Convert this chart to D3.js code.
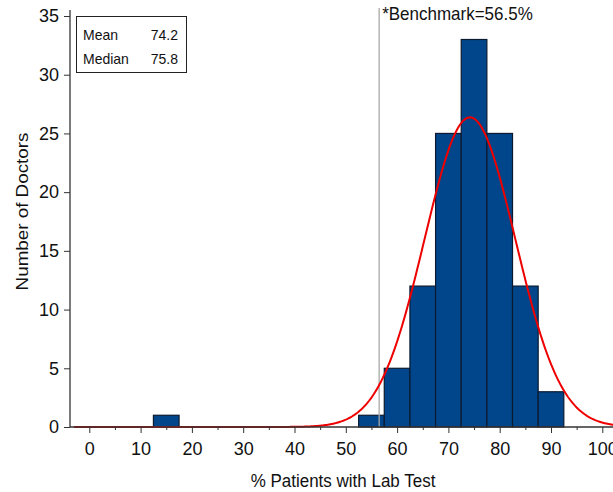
<!DOCTYPE html>
<html>
<head>
<meta charset="utf-8">
<script src="https://cdn.jsdelivr.net/npm/d3@7"></script>
<style>
  html, body { margin: 0; padding: 0; background: #fff; }
  svg { display: block; font-family: "Liberation Sans", Arial, sans-serif; }
</style>
</head>
<body>
<svg id="chart" width="613" height="492"></svg>
<script>
// Histogram bins (5-point wide, labelled by bin centre) and doctor counts
const binCenters = [15, 55, 60, 65, 70, 75, 80, 85, 90];
const binCounts  = [1, 1, 5, 12, 25, 33, 25, 12, 3];
const binWidth = 5;

// Summary statistics
const statLabels = ["Mean", "Median"];
const statValues = ["74.2", "75.8"];
const fitMean = 74.2;
const fitSd = 8.85;

const benchmark = 56.5;

const xTicks = [0, 10, 20, 30, 40, 50, 60, 70, 80, 90, 100];
const xMinorTicks = [5, 15, 25, 35, 45, 55, 65, 75, 85, 95];
const yTicks = [0, 5, 10, 15, 20, 25, 30, 35];

const svg = d3.select("#chart");
const FONT = "Liberation Sans, Arial, sans-serif";

const x = d3.scaleLinear().domain([0, 100]).range([89.3, 602.3]);
const y = d3.scaleLinear().domain([0, 35]).range([427, 16]);
const xAxisStart = 70;

// Bars
const total = d3.sum(binCounts);
svg.append("g").selectAll("rect")
  .data(binCenters.map((c, i) => ({ c, n: binCounts[i] })))
  .join("rect")
  .attr("x", d => x(d.c - binWidth / 2))
  .attr("width", d => x(d.c + binWidth / 2) - x(d.c - binWidth / 2))
  .attr("y", d => y(d.n))
  .attr("height", d => y(0) - y(d.n))
  .attr("fill", "#01468a")
  .attr("stroke", "#0b1a30")
  .attr("stroke-width", 1.2);

// Benchmark line
svg.append("line")
  .attr("x1", x(benchmark)).attr("x2", x(benchmark))
  .attr("y1", 8).attr("y2", y(0))
  .attr("stroke", "#a8a8a8").attr("stroke-width", 1.3);

svg.append("text")
  .attr("transform", `translate(${x(benchmark) + 3},20) scale(1,1.1)`)
  .attr("font-size", 17).attr("fill", "#111")
  .text("*Benchmark=" + benchmark + "%");

// Fitted normal curve scaled to counts
const curveX = d3.range(-3, 103.01, 0.25);
const scale = total * binWidth / (fitSd * Math.sqrt(2 * Math.PI));
const curvePts = curveX.map(v => [v, scale * Math.exp(-0.5 * ((v - fitMean) / fitSd) ** 2)]);
svg.append("path")
  .datum(curvePts)
  .attr("fill", "none")
  .attr("stroke", "#ee0000")
  .attr("stroke-width", 2)
  .attr("d", d3.line().x(d => x(d[0])).y(d => y(d[1])));

// Axes
const axisColor = "#333";
const gx = svg.append("g").attr("transform", `translate(0,${y(0)})`);
gx.append("line").attr("x1", xAxisStart).attr("x2", 613).attr("stroke", axisColor).attr("stroke-width", 1.3);
gx.append("g").call(d3.axisBottom(x).tickValues(xTicks).tickSize(6).tickPadding(9))
  .call(s => {
    s.select(".domain").remove();
    s.selectAll("line").attr("stroke", axisColor);
    s.selectAll("text").attr("font-size", 18).attr("fill", "#111").attr("font-family", FONT);
  });
gx.append("g").call(d3.axisBottom(x).tickValues(xMinorTicks).tickSize(3).tickFormat(""))
  .call(s => { s.select(".domain").remove(); s.selectAll("line").attr("stroke", axisColor); });

const gy = svg.append("g").attr("transform", `translate(${xAxisStart},0)`);
gy.append("line").attr("y1", 10).attr("y2", y(0)).attr("stroke", axisColor).attr("stroke-width", 1.3);
gy.append("g").call(d3.axisLeft(y).tickValues(yTicks).tickSize(6).tickPadding(5))
  .call(s => {
    s.select(".domain").remove();
    s.selectAll("line").attr("stroke", axisColor);
    s.selectAll("text").attr("font-size", 18).attr("fill", "#111").attr("font-family", FONT);
  });

// Axis titles
svg.append("text")
  .attr("transform", "translate(343,487) scale(1,1.09)")
  .attr("text-anchor", "middle").attr("font-size", 17).attr("fill", "#111")
  .text("% Patients with Lab Test");

svg.append("text")
  .attr("transform", "translate(28,211.5) rotate(-90) scale(1.14,1)")
  .attr("text-anchor", "middle").attr("font-size", 16.5).attr("fill", "#111")
  .text("Number of Doctors");

// Statistics box
const box = svg.append("g");
box.append("rect")
  .attr("x", 76.5).attr("y", 16.5).attr("width", 110).attr("height", 56)
  .attr("fill", "#fff").attr("stroke", "#222").attr("stroke-width", 1);
statLabels.forEach((lab, i) => {
  const by = 39.5 + i * 24.5;
  box.append("text").attr("transform", `translate(83,${by}) scale(1,1.07)`)
    .attr("font-size", 14).attr("fill", "#111").text(lab);
  box.append("text").attr("transform", `translate(178,${by}) scale(1,1.07)`)
    .attr("text-anchor", "end").attr("font-size", 14).attr("fill", "#111").text(statValues[i]);
});
</script>
</body>
</html>
